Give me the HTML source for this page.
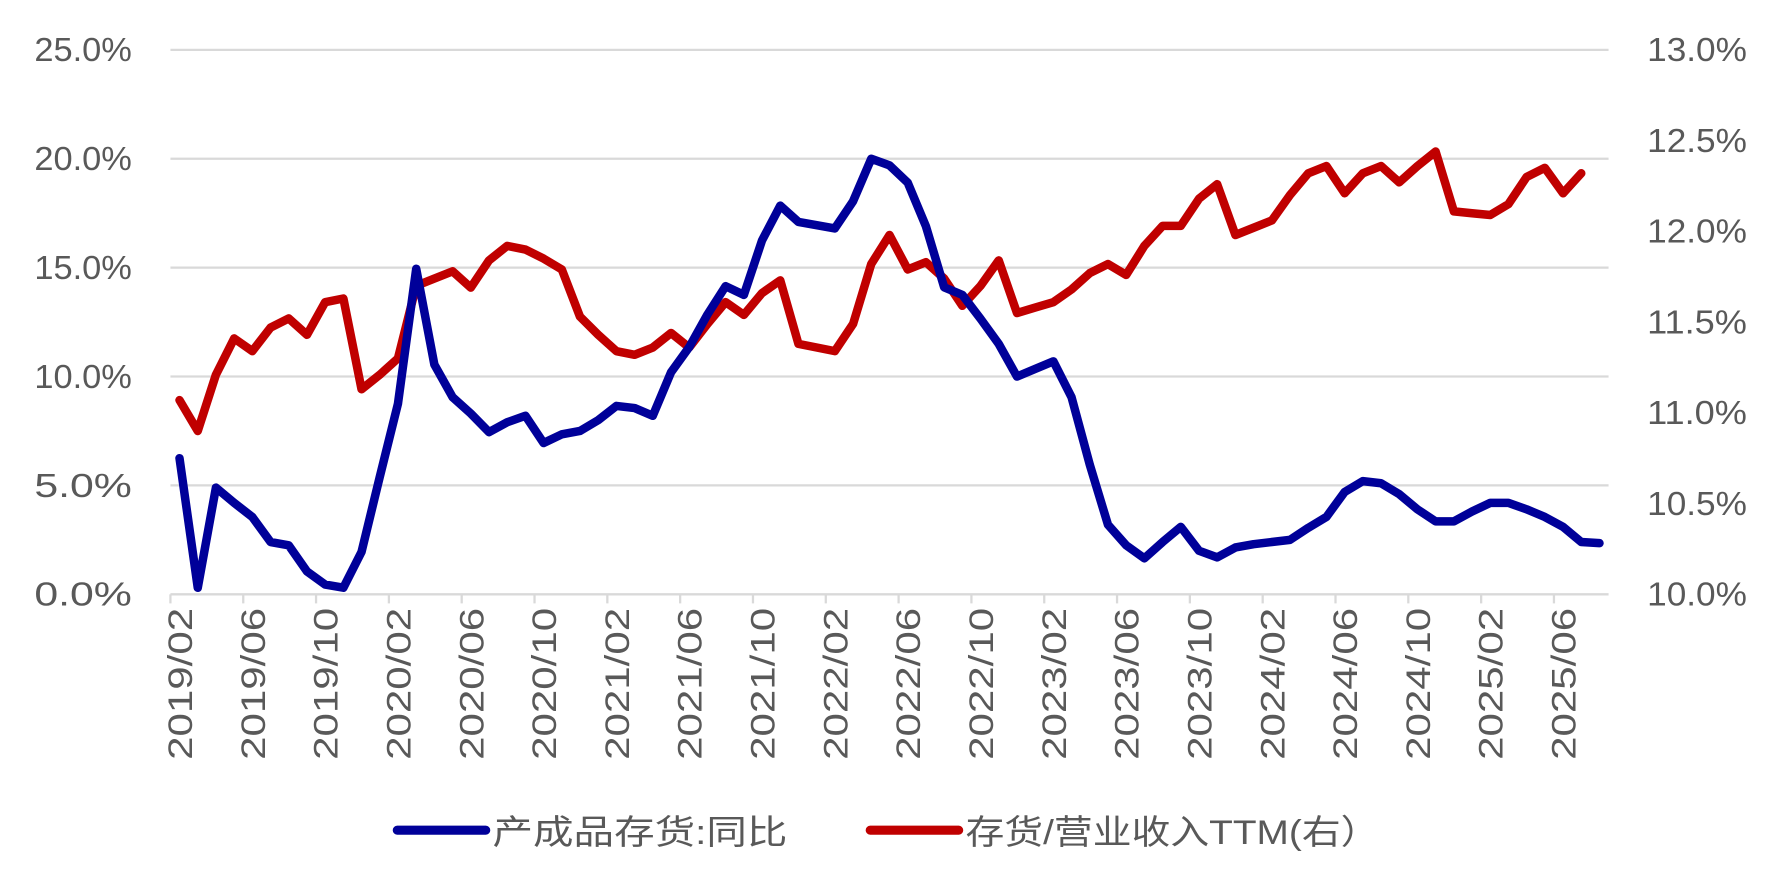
<!DOCTYPE html>
<html><head><meta charset="utf-8"><style>
html,body{margin:0;padding:0;background:#fff;}
svg{display:block;}
text{font-family:"Liberation Sans","Noto Sans CJK SC",sans-serif;fill:#595959;}
</style></head><body>
<svg id="chart" width="1779" height="896" viewBox="0 0 1568 790" xmlns="http://www.w3.org/2000/svg">
<g id="grid"></g>
<g id="yleft"></g>
<g id="yright"></g>
<g id="xaxis"></g>
<g id="series"></g>
<g>
<line x1="350" y1="732" x2="428" y2="732" stroke="#000099" stroke-width="8" stroke-linecap="round"/>
<text x="434" y="744" font-size="30" textLength="260" lengthAdjust="spacingAndGlyphs">产成品存货:同比</text>
<line x1="767" y1="732" x2="845" y2="732" stroke="#C00000" stroke-width="8" stroke-linecap="round"/>
<text x="851" y="744" font-size="30" textLength="365" lengthAdjust="spacingAndGlyphs">存货/营业收入TTM(右）</text>
</g>
</svg>
<script>
const blueValues=[6.25,0.3,4.9,4.2,3.55,2.4,2.25,1.05,0.45,0.3,1.95,5.4,8.75,14.95,10.55,9.05,8.3,7.45,7.9,8.2,6.95,7.35,7.5,8.0,8.65,8.55,8.2,10.2,11.35,12.85,14.15,13.75,16.25,17.85,17.1,16.95,16.8,18.05,20.0,19.7,18.9,16.9,14.1,13.75,12.65,11.5,10.0,10.35,10.7,9.05,5.95,3.2,2.25,1.65,2.4,3.1,2.0,1.7,2.15,2.3,2.4,2.5,3.05,3.55,4.7,5.2,5.1,4.6,3.9,3.35,3.35,3.8,4.2,4.2,3.9,3.55,3.1,2.4,2.35];
const redValues=[11.07,10.9,11.21,11.41,11.34,11.47,11.52,11.43,11.61,11.63,11.13,11.21,11.3,11.7,11.74,11.78,11.69,11.84,11.92,11.9,11.85,11.79,11.53,11.43,11.34,11.32,11.36,11.44,11.36,11.49,11.61,11.54,11.66,11.73,11.38,11.36,11.34,11.49,11.82,11.98,11.79,11.83,11.74,11.59,11.7,11.84,11.55,11.58,11.61,11.68,11.77,11.82,11.76,11.92,12.03,12.03,12.18,12.26,11.98,12.02,12.06,12.2,12.32,12.36,12.21,12.32,12.36,12.27,12.36,12.44,12.11,12.1,12.09,12.15,12.3,12.35,12.21,12.32];
const leftTicks=[0,5,10,15,20,25];
const rightTicks=[10.0,10.5,11.0,11.5,12.0,12.5,13.0];
const startYear=2019,startMonth=2,nCats=79;
const NS="http://www.w3.org/2000/svg";
const L=150,R=1418,T=44,B=524;
const bw=(R-L)/nCats;
const xC=i=>L+(i+0.5)*bw;
const yL=v=>B-(v-0)/(25-0)*(B-T);
const yR=v=>B-(v-10)/(13-10)*(B-T);
function mk(tag,attrs,parent){const e=document.createElementNS(NS,tag);for(const k in attrs)e.setAttribute(k,attrs[k]);parent.appendChild(e);return e;}
const grid=document.getElementById('grid'),yl=document.getElementById('yleft'),yr=document.getElementById('yright'),xa=document.getElementById('xaxis'),se=document.getElementById('series');
leftTicks.forEach(v=>{
  const y=yL(v);
  if(v!==0){const g=mk('line',{x1:L,x2:R,y1:y,y2:y,stroke:'#d9d9d9','stroke-width':2},grid);
  
  }
  const t=mk('text',{x:116,y:y+10,'text-anchor':'end','font-size':29,textLength:86,lengthAdjust:'spacingAndGlyphs'},yl);t.textContent=v.toFixed(1)+'%';
  
  
});
rightTicks.forEach(v=>{
  const t=mk('text',{x:1540,y:yR(v)+10,'text-anchor':'end','font-size':29,textLength:88,lengthAdjust:'spacingAndGlyphs'},yr);t.textContent=v.toFixed(1)+'%';
  
  
});
const ax=mk('line',{x1:L,x2:R,y1:B,y2:B,stroke:'#d9d9d9','stroke-width':2},xa);


for(let i=0;i<nCats;i+=4){
  const tx=L+i*bw;
  const tk=mk('line',{x1:tx,x2:tx,y1:B,y2:B+8,stroke:'#d9d9d9','stroke-width':2},xa);
  
  
  const m=startMonth-1+i,yr_=startYear+Math.floor(m/12),mo=(m%12)+1;
  const cx=xC(i);
  const t=mk('text',{x:0,y:0,'text-anchor':'end','font-size':30,textLength:134,lengthAdjust:'spacingAndGlyphs',transform:`translate(${cx+11},${B+12}) rotate(-90)`},xa);
  t.textContent=yr_+'/'+String(mo).padStart(2,'0');
  
  
}
function line(vals,yf,color,name){
  const d=vals.map((v,i)=>(i?'L':'M')+xC(i).toFixed(1)+','+yf(v).toFixed(1)).join(' ');
  const p=mk('path',{d:d,fill:'none',stroke:color,'stroke-width':7.5,'stroke-linejoin':'round','stroke-linecap':'round'},se);
  
  
}
line(redValues,yR,'#C00000','series-inventory-revenue-ratio');
line(blueValues,yL,'#000099','series-finished-goods-yoy');
</script>
</body></html>
